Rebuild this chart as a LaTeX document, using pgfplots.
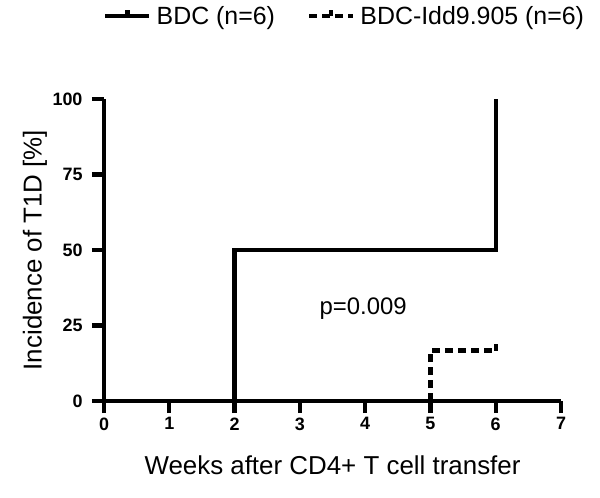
\documentclass[border=0pt]{standalone}
\usepackage{fontspec}
\setmainfont{Liberation Sans}
\usepackage{pgfplots}
\pgfplotsset{compat=1.18}
\begin{document}
\begin{tikzpicture}
\begin{axis}[
  name=ax,
  scale only axis,
  width=457bp, height=302bp,
  xmin=0, xmax=7, ymin=0, ymax=100,
  axis lines*=left,
  axis line style={line width=4.2bp, -, black},
  xtick={0,1,2,3,4,5,6,7},
  ytick={0,25,50,75,100},
  tick align=outside,
  major tick length=12bp,
  every tick/.style={black, line width=4.2bp},
  major tick style={black, line width=4.2bp},
  /pgf/number format/assume math mode=true,
  ticklabel style={font=\fontsize{18}{18}\selectfont\bfseries},
  xticklabel style={yshift=-1bp},
  yticklabel style={xshift=-6bp},
  xlabel={Weeks after CD4+ T cell transfer},
  ylabel={Incidence of T1D [\%]},
  label style={font=\fontsize{26}{26}\selectfont},
  xlabel style={at={(axis description cs:0.5,-0.212)}, anchor=center},
  ylabel style={at={(axis description cs:-0.151,0.5)}, anchor=center},
  clip=false,
  legend columns=2,
  legend style={at={(axis description cs:-0.002,1.275)}, anchor=west, draw=none, fill=none,
    inner sep=0pt, font=\fontsize{25}{25}\selectfont,
    /tikz/every odd column/.style={column sep=5bp},
    /tikz/every even column/.style={column sep=32bp},
    nodes={inner sep=0pt}},
  legend cell align=left,
  legend image code/.code={
    \draw[#1] (0bp,0bp) -- (44bp,0bp);
    \draw[#1,solid] (22bp,0bp) -- (22bp,6bp);
  },
]
\addplot[black, line width=4.4bp, line join=miter] coordinates {(0,0) (2,0) (2,50) (6,50) (6,100)};
\addlegendentry{BDC (n=6)}
\addplot[black, line width=4.4bp, dash pattern=on 8bp off 5bp] coordinates {(5,0) (5,16.67) (6,16.67)};
\addlegendentry{BDC-Idd9.905 (n=6)}
\addplot[black, line width=4.4bp, forget plot] coordinates {(6,16.67) (6,19)};
\node[font=\fontsize{24}{24}\selectfont] at (axis cs:3.97,30.5) {p=0.009};
\end{axis}
\path ([shift={(-104bp,-97bp)}]ax.south west) rectangle ++(600bp,498bp);
\end{tikzpicture}
\end{document}
